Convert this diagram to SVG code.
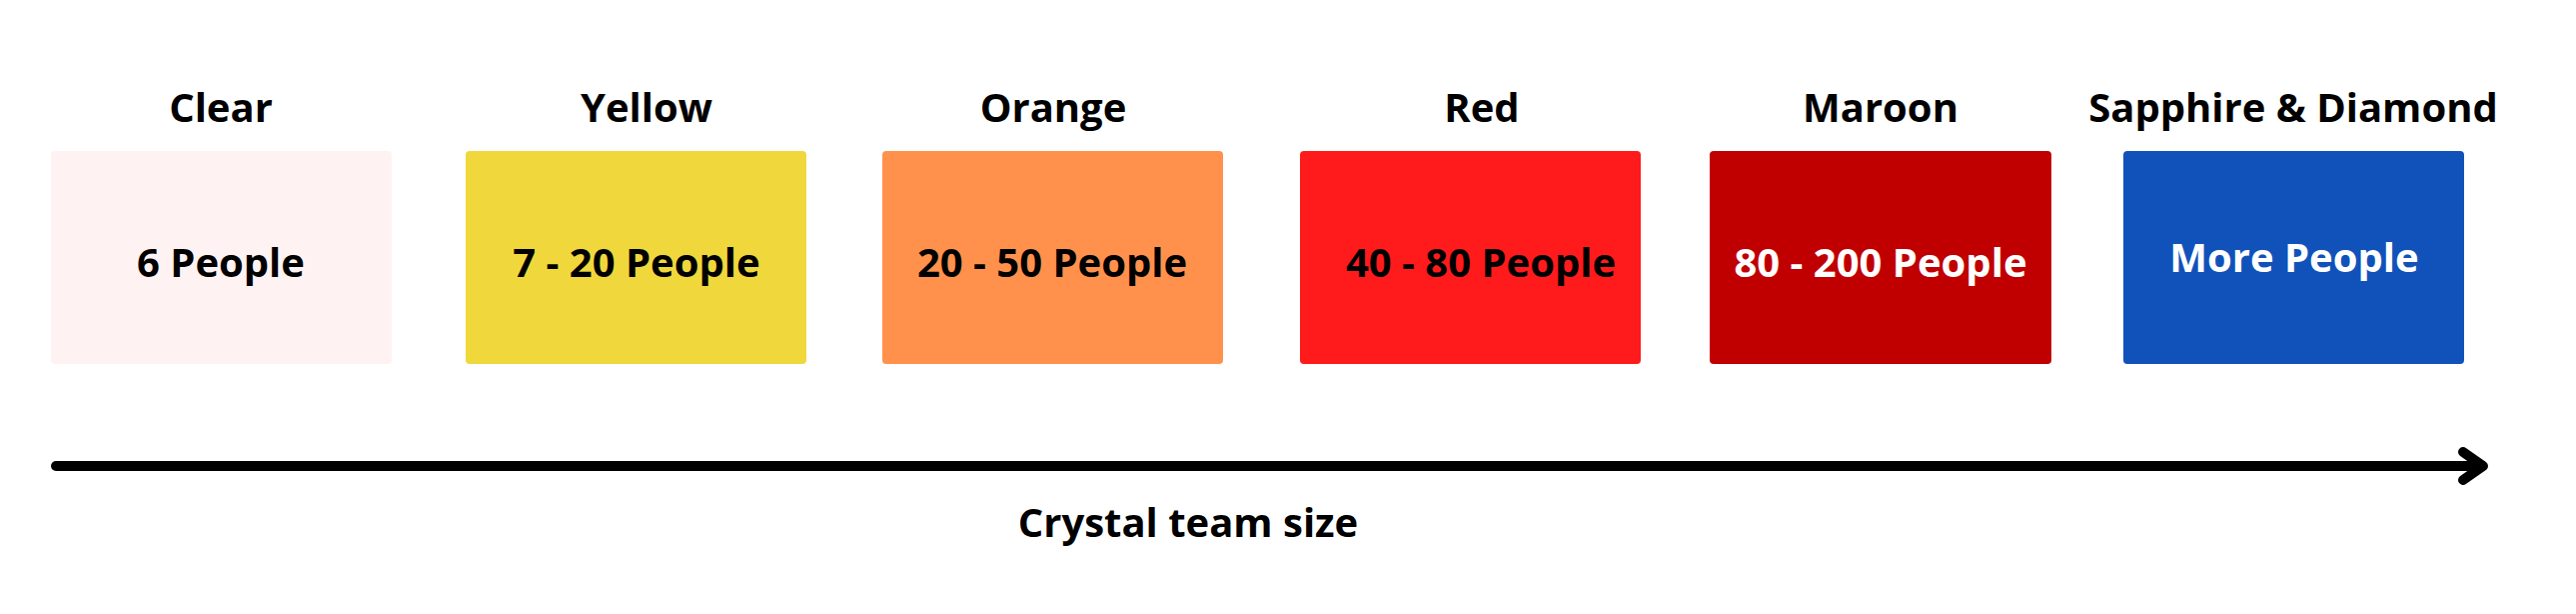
<svg xmlns="http://www.w3.org/2000/svg" width="2578" height="614" viewBox="0 0 2578 614">
<style>
text { font-family: "Open Sans", "Noto Sans", "Liberation Sans", sans-serif; font-weight: 700; font-size: 40px; text-anchor: middle; fill: #000000; }
.light { fill: #ffffff; }
.box { stroke: none; }
.axis { stroke: #000000; stroke-width: 10; fill: none; stroke-linecap: round; stroke-linejoin: round; }
</style>
<rect width="2578" height="614" fill="#ffffff"/>
<g id="clear">
<text x="221" y="122">Clear</text>
<rect class="box" x="51" y="151" width="341" height="213" rx="4" fill="#FEF3F2"/>
<text x="221" y="277">6 People</text>
</g>
<g id="yellow">
<text x="647" y="122">Yellow</text>
<rect class="box" x="466" y="151" width="341" height="213" rx="4" fill="#F0D83C"/>
<text x="637" y="277">7 - 20 People</text>
</g>
<g id="orange">
<text x="1054" y="122">Orange</text>
<rect class="box" x="883" y="151" width="341" height="213" rx="4" fill="#FF914D"/>
<text x="1053" y="277">20 - 50 People</text>
</g>
<g id="red">
<text x="1483" y="122">Red</text>
<rect class="box" x="1301" y="151" width="341" height="213" rx="4" fill="#FF1A1C"/>
<text x="1482" y="277">40 - 80 People</text>
</g>
<g id="maroon">
<text x="1882" y="122">Maroon</text>
<rect class="box" x="1711" y="151" width="342" height="213" rx="4" fill="#C00000"/>
<text class="light" x="1882" y="277">80 - 200 People</text>
</g>
<g id="sapphire">
<text x="2295" y="122">Sapphire &amp; Diamond</text>
<rect class="box" x="2125" y="151" width="341" height="213" rx="4" fill="#1152BA"/>
<text class="light" x="2296" y="272">More People</text>
</g>
<g id="connectors">
<line class="axis" x1="56" y1="466" x2="2484" y2="466"/>
<polyline class="axis" points="2465,452 2485,466 2465,480"/>
</g>
<g id="axis-label">
<text x="1189" y="537">Crystal team size</text>
</g>
</svg>
